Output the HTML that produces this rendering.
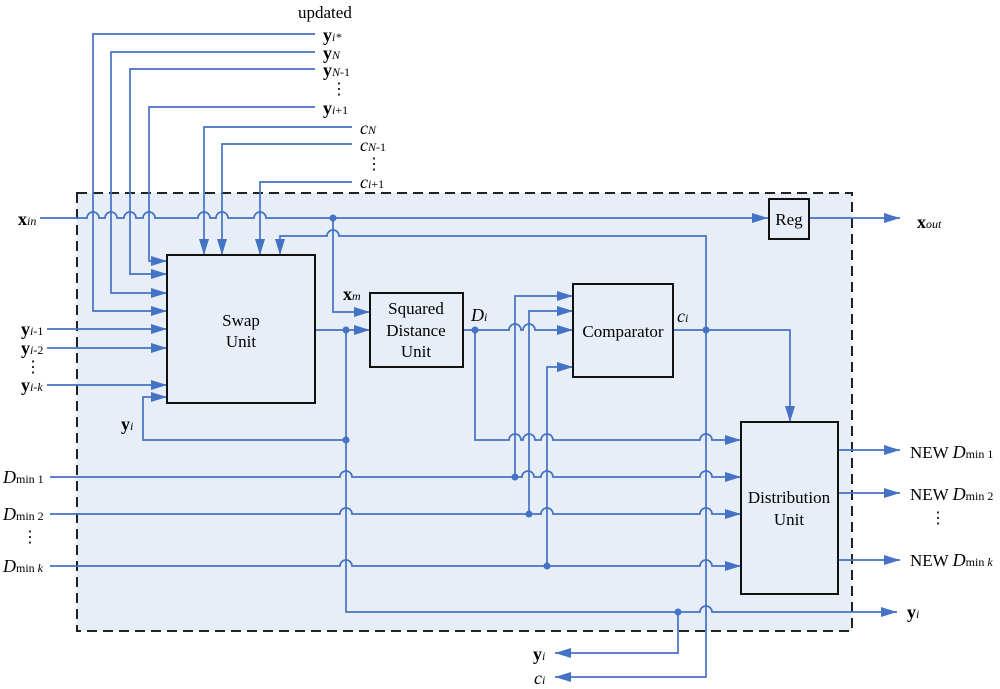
<!DOCTYPE html>
<html><head><meta charset="utf-8"><style>
html,body{margin:0;padding:0;background:#fff;}
svg{display:block;}
text{font-family:"Liberation Serif",serif;fill:#000;}
</style></head><body>
<svg width="1000" height="689" viewBox="0 0 1000 689" xmlns="http://www.w3.org/2000/svg">
<defs>
<marker id="b" viewBox="0 0 16 10" markerWidth="16" markerHeight="10" refX="16" refY="5" orient="auto" markerUnits="userSpaceOnUse">
<path d="M0,0 L16,5 L0,10 Z" fill="#4472C4"/>
</marker>
</defs>
<rect x="77" y="193" width="775" height="438" fill="#E8EEF8" stroke="#222" stroke-width="2" stroke-dasharray="10,6"/>

<g fill="none" stroke="#4472C4" stroke-width="1.7">
<path d="M315 34 H93 V311 H167" marker-end="url(#b)"/>
<path d="M315 52 H111 V293 H167" marker-end="url(#b)"/>
<path d="M315 69 H130 V274 H167" marker-end="url(#b)"/>
<path d="M315 107 H149 V261 H167" marker-end="url(#b)"/>
<path d="M352 127 H204 V255" marker-end="url(#b)"/>
<path d="M352 144 H222 V255" marker-end="url(#b)"/>
<path d="M352 182 H260 V255" marker-end="url(#b)"/>
<path d="M40 218 H87 a6 6 0 0 1 12 0 H105 a6 6 0 0 1 12 0 H124 a6 6 0 0 1 12 0 H143 a6 6 0 0 1 12 0 H198 a6 6 0 0 1 12 0 H216 a6 6 0 0 1 12 0 H254 a6 6 0 0 1 12 0 H768" marker-end="url(#b)"/>
<path d="M809 218 H900" marker-end="url(#b)"/>
<path d="M333 218 V312 H370" marker-end="url(#b)"/>
<path d="M706 330 V236 H339 a6 6 0 0 0 -12 0 H280 V255" marker-end="url(#b)"/>
<path d="M47 329 H167" marker-end="url(#b)"/>
<path d="M47 348 H167" marker-end="url(#b)"/>
<path d="M47 385 H167" marker-end="url(#b)"/>
<path d="M346 440 H143 V397 H167" marker-end="url(#b)"/>
<path d="M315 330 H370" marker-end="url(#b)"/>
<path d="M346 330 V612 H700 a6 6 0 0 1 12 0 H897" marker-end="url(#b)"/>
<path d="M463 330 H509 a6 6 0 0 1 12 0 H523 a6 6 0 0 1 12 0 H573" marker-end="url(#b)"/>
<path d="M475 330 V440 H509 a6 6 0 0 1 12 0 H523 a6 6 0 0 1 12 0 H541 a6 6 0 0 1 12 0 H700 a6 6 0 0 1 12 0 H741" marker-end="url(#b)"/>
<path d="M50 477 H340 a6 6 0 0 1 12 0 H522 a6 6 0 0 1 12 0 H541 a6 6 0 0 1 12 0 H700 a6 6 0 0 1 12 0 H741" marker-end="url(#b)"/>
<path d="M50 514 H340 a6 6 0 0 1 12 0 H541 a6 6 0 0 1 12 0 H700 a6 6 0 0 1 12 0 H741" marker-end="url(#b)"/>
<path d="M50 566 H340 a6 6 0 0 1 12 0 H700 a6 6 0 0 1 12 0 H741" marker-end="url(#b)"/>
<path d="M515 477 V296 H573" marker-end="url(#b)"/>
<path d="M529 514 V311 H573" marker-end="url(#b)"/>
<path d="M547 566 V367 H573" marker-end="url(#b)"/>
<path d="M673 330 H790 V422" marker-end="url(#b)"/>
<path d="M706 330 V677 H555" marker-end="url(#b)"/>
<path d="M678 612 V653 H555" marker-end="url(#b)"/>
<path d="M838 450 H900" marker-end="url(#b)"/>
<path d="M838 493 H900" marker-end="url(#b)"/>
<path d="M838 560 H900" marker-end="url(#b)"/>
</g>
<g fill="#4472C4">
<circle cx="333" cy="218" r="3.5"/><circle cx="346" cy="330" r="3.5"/><circle cx="346" cy="440" r="3.5"/>
<circle cx="475" cy="330" r="3.5"/><circle cx="515" cy="477" r="3.5"/><circle cx="529" cy="514" r="3.5"/>
<circle cx="547" cy="566" r="3.5"/><circle cx="706" cy="330" r="3.5"/><circle cx="678" cy="612" r="3.5"/>
</g>
<g fill="#E8EEF8" stroke="#111" stroke-width="2">
<rect x="167" y="255" width="148" height="148"/>
<rect x="370" y="293" width="93" height="74"/>
<rect x="573" y="284" width="100" height="93"/>
<rect x="741" y="422" width="97" height="172"/>
<rect x="769" y="199" width="40" height="40"/>
</g>
<g font-size="17" text-anchor="middle">
<text x="241" y="326">Swap</text><text x="241" y="347">Unit</text>
<text x="416" y="314">Squared</text><text x="416" y="336">Distance</text><text x="416" y="357">Unit</text>
<text x="623" y="337">Comparator</text>
<text x="789" y="503">Distribution</text><text x="789" y="525">Unit</text>
<text x="789" y="225">Reg</text>
</g>
<g font-size="18">
<text x="298" y="18" font-size="17">updated</text>
<text x="323" y="41"><tspan font-weight="bold">y</tspan><tspan font-style="italic" font-size="12">i*</tspan></text>
<text x="323" y="59"><tspan font-weight="bold">y</tspan><tspan font-style="italic" font-size="12">N</tspan></text>
<text x="323" y="76"><tspan font-weight="bold">y</tspan><tspan font-style="italic" font-size="12">N</tspan><tspan font-size="12">-1</tspan></text>
<text x="331" y="94" font-size="16">⋮</text>
<text x="323" y="114"><tspan font-weight="bold">y</tspan><tspan font-style="italic" font-size="12">i</tspan><tspan font-size="12">+1</tspan></text>
<text x="360" y="134" font-style="italic">c<tspan font-size="12">N</tspan></text>
<text x="360" y="151" font-style="italic">c<tspan font-size="12">N</tspan><tspan font-size="12" font-style="normal">-1</tspan></text>
<text x="366" y="169" font-size="16">⋮</text>
<text x="360" y="188" font-style="italic">c<tspan font-size="12">i</tspan><tspan font-size="12" font-style="normal">+1</tspan></text>
<text x="18" y="225"><tspan font-weight="bold">x</tspan><tspan font-style="italic" font-size="12">in</tspan></text>
<text x="917" y="228"><tspan font-weight="bold">x</tspan><tspan font-style="italic" font-size="12">out</tspan></text>
<text x="343" y="300"><tspan font-weight="bold">x</tspan><tspan font-style="italic" font-size="12">m</tspan></text>
<text x="471" y="321" font-style="italic">D<tspan font-size="12">i</tspan></text>
<text x="677" y="322" font-style="italic">c<tspan font-size="12">i</tspan></text>
<text x="21" y="335"><tspan font-weight="bold">y</tspan><tspan font-style="italic" font-size="12">i</tspan><tspan font-size="12">-1</tspan></text>
<text x="21" y="354"><tspan font-weight="bold">y</tspan><tspan font-style="italic" font-size="12">i</tspan><tspan font-size="12">-2</tspan></text>
<text x="25" y="372" font-size="16">⋮</text>
<text x="21" y="391"><tspan font-weight="bold">y</tspan><tspan font-style="italic" font-size="12">i-k</tspan></text>
<text x="121" y="430"><tspan font-weight="bold">y</tspan><tspan font-style="italic" font-size="12">i</tspan></text>
<text x="3" y="483"><tspan font-style="italic">D</tspan><tspan font-size="12">min 1</tspan></text>
<text x="3" y="520"><tspan font-style="italic">D</tspan><tspan font-size="12">min 2</tspan></text>
<text x="22" y="542" font-size="16">⋮</text>
<text x="3" y="572"><tspan font-style="italic">D</tspan><tspan font-size="12">min </tspan><tspan font-size="12" font-style="italic">k</tspan></text>
<text x="910" y="458" font-size="17">NEW <tspan font-style="italic" font-size="18">D</tspan><tspan font-size="12">min 1</tspan></text>
<text x="910" y="500" font-size="17">NEW <tspan font-style="italic" font-size="18">D</tspan><tspan font-size="12">min 2</tspan></text>
<text x="930" y="523" font-size="16">⋮</text>
<text x="910" y="566" font-size="17">NEW <tspan font-style="italic" font-size="18">D</tspan><tspan font-size="12">min </tspan><tspan font-size="12" font-style="italic">k</tspan></text>
<text x="907" y="618"><tspan font-weight="bold">y</tspan><tspan font-style="italic" font-size="12">i</tspan></text>
<text x="533" y="660"><tspan font-weight="bold">y</tspan><tspan font-style="italic" font-size="12">i</tspan></text>
<text x="534" y="684" font-style="italic">c<tspan font-size="12">i</tspan></text>
</g>
</svg>
</body></html>
